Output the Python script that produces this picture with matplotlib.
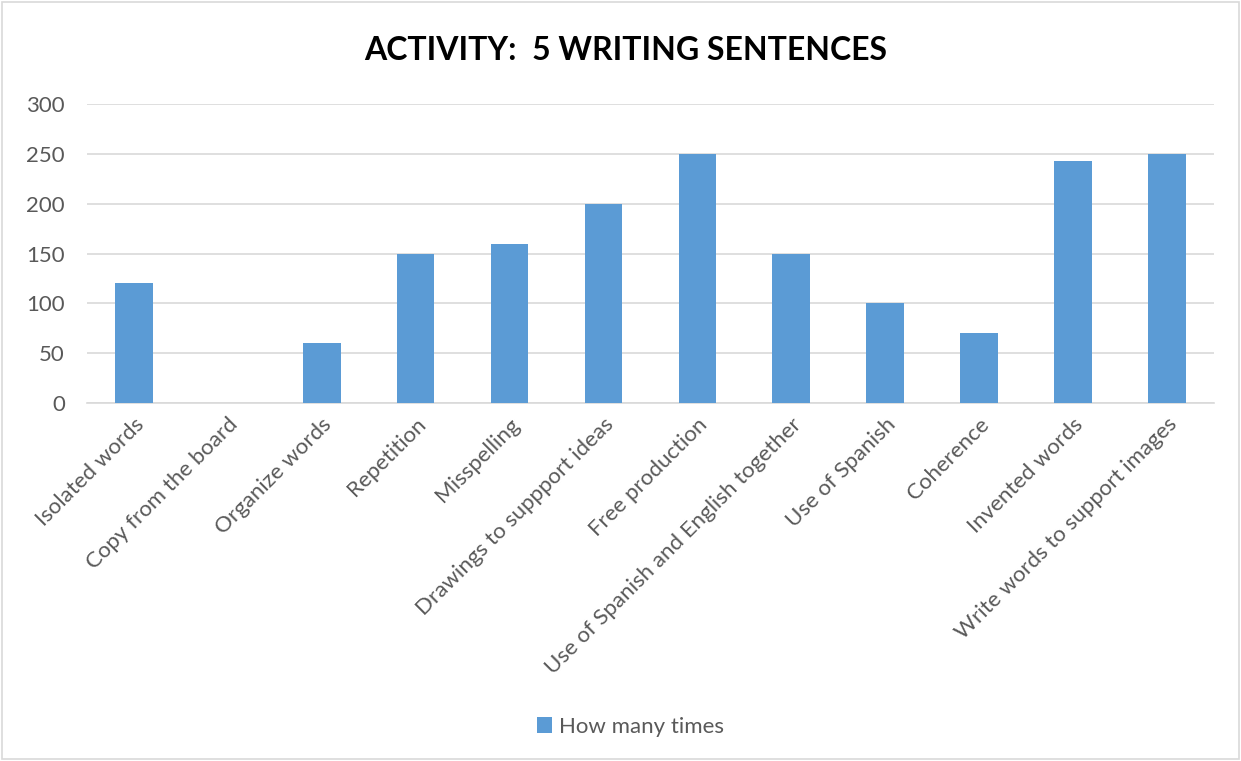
import matplotlib
matplotlib.use("Agg")
import matplotlib.pyplot as plt
from matplotlib.patches import Rectangle

categories = ["Isolated words", "Copy from the board", "Organize words", "Repetition",
              "Misspelling", "Drawings to suppport ideas", "Free production",
              "Use of Spanish and English together", "Use of Spanish", "Coherence",
              "Invented words", "Write words to support images"]
how_many_times = [120, 0, 60, 150, 160, 200, 250, 150, 100, 70, 243, 250]
y_ticks = [0, 50, 100, 150, 200, 250, 300]

plt.rcParams['font.family'] = ['Lato', 'DejaVu Sans']
text_color = '#595959'
bar_color = '#5b9bd5'

fig = plt.figure(figsize=(12.41, 7.61), dpi=100)
ax = fig.add_axes([0.0701, 0.4704, 0.9079, 0.3929])

x = range(len(categories))
ax.bar(x, how_many_times, width=0.4, color=bar_color, label='How many times', zorder=3)

ax.set_xlim(-0.5, len(categories) - 0.5)
ax.set_ylim(0, 300)
ax.set_yticks(y_ticks)
ax.set_xticks(list(x))
ax.set_xticklabels(categories, rotation=45, ha='right', rotation_mode='anchor')
ax.tick_params(axis='both', length=0, labelsize=16, colors=text_color)
ax.tick_params(axis='y', pad=16)
ax.tick_params(axis='x', pad=8)
ax.grid(axis='y', color='#d9d9d9', linewidth=1.2, zorder=0)
for s in ['top', 'right', 'left']:
    ax.spines[s].set_visible(False)
ax.spines['bottom'].set_color('#d9d9d9')
ax.spines['bottom'].set_linewidth(1.2)

fig.text(0.504, 0.934, 'ACTIVITY:  5 WRITING SENTENCES', ha='center', va='center',
         fontsize=23, fontweight='bold', color='black')

fig.legend(loc='center', bbox_to_anchor=(0.508, 0.045), frameon=False, fontsize=16,
           labelcolor=text_color, handlelength=0.7, handleheight=0.7, handletextpad=0.3)

# outer chart border
fig.patches.append(Rectangle((0.002, 0.002), 0.996, 0.996, transform=fig.transFigure,
                             fill=False, edgecolor='#d9d9d9', linewidth=1.2))

plt.savefig('out.png', dpi=100)
